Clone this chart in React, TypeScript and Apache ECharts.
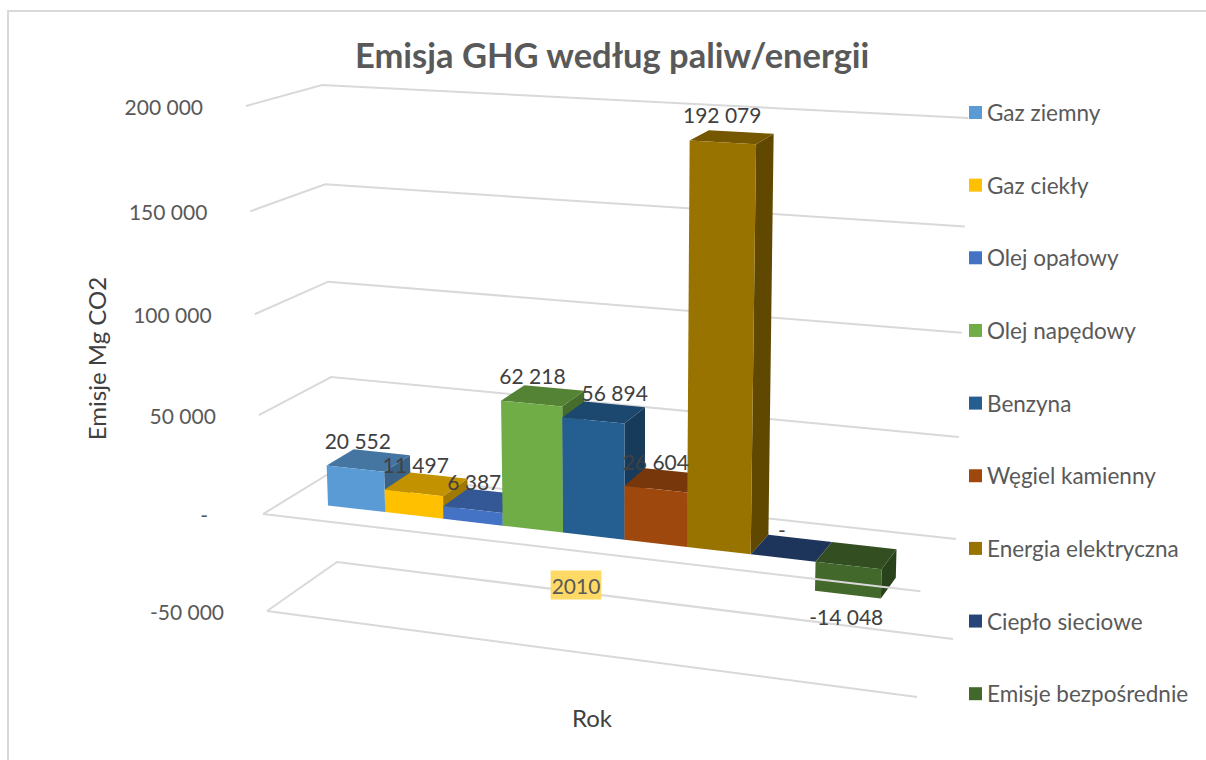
import React, { useEffect, useRef } from "react";
import * as echarts from "echarts";

const years = ["2010"];
const fuels = ["Gaz ziemny", "Gaz ciekły", "Olej opałowy", "Olej napędowy", "Benzyna", "Węgiel kamienny", "Energia elektryczna", "Ciepło sieciowe", "Emisje bezpośrednie"];
const emissions = [20552, 11497, 6387, 62218, 56894, 26604, 192079, 0, -14048];
const colors = ["#5B9BD5", "#FFC000", "#4472C4", "#70AD47", "#255E91", "#9E480E", "#997300", "#264478", "#43682B"];
const yTicks = [-50000, 0, 50000, 100000, 150000, 200000];
const yTickLabels = ["-50 000", "-", "50 000", "100 000", "150 000", "200 000"];

const FONT = "Lato, Carlito, sans-serif";
const GREY = "#595959";
const DARK = "#404040";
const LINE = "#D9D9D9";

// Projection of the 3D box: corners of the lowest and highest value planes.
// Order: front-left, back-left, back-right, front-right.
const LOW = [[267, 611], [337, 562], [953, 639], [917, 697]];
const HIGH = [[246, 106], [322, 85], [968, 118], [935, 146]];
const U_START = 0.0726, U_STEP = 0.0952, U_PERSP = 0.91, H_PERSP = 0.95;
const W_FRONT = 0.31, W_BACK = 0.7;

const mix = (a: number[], b: number[], t: number) => [a[0] + (b[0] - a[0]) * t, a[1] + (b[1] - a[1]) * t];
const planePoint = (c: number[][], u: number, w: number) => mix(mix(c[0], c[1], w), mix(c[3], c[2], w), u);
const project = (u: number, w: number, h: number) => {
  const f = (u * U_PERSP) / (1 + (U_PERSP - 1) * u);
  const s = (h * H_PERSP) / (1 + (H_PERSP - 1) * h);
  return mix(planePoint(LOW, f, w), planePoint(HIGH, f, w), s);
};
// Height (0..1) of a value.
const heightOf = (api: any, params: any, v: number) => {
  const g = params.coordSys;
  return (g.y + g.height - api.coord([0, v])[1]) / g.height;
};
const shade = (hex: string, k: number) => {
  const n = parseInt(hex.slice(1), 16);
  const c = [(n >> 16) & 255, (n >> 8) & 255, n & 255].map((x) => Math.round(x * k));
  return `rgb(${c[0]},${c[1]},${c[2]})`;
};
const formatValue = (v: number) => (v === 0 ? "-" : String(v).replace(/\B(?=(\d{3})+$)/, " "));

const barSeries = fuels.map((name, i) => ({
  type: "custom",
  name,
  z: 3 + i,
  itemStyle: { color: colors[i] },
  encode: { x: 0, y: 1 },
  data: [[0, emissions[i]]],
  renderItem: (params: any, api: any) => {
    const v = api.value(1);
    const zero = heightOf(api, params, 0);
    const end = heightOf(api, params, v);
    const top = Math.max(zero, end), bottom = Math.min(zero, end);
    const u0 = U_START + i * U_STEP, u1 = u0 + U_STEP;
    const poly = (pts: number[][], fill: string) => ({ type: "polygon", shape: { points: pts }, style: { fill } });
    return {
      type: "group",
      children: [
        poly([project(u1, W_FRONT, bottom), project(u1, W_BACK, bottom), project(u1, W_BACK, top), project(u1, W_FRONT, top)], shade(colors[i], 0.63)),
        poly([project(u0, W_FRONT, top), project(u0, W_BACK, top), project(u1, W_BACK, top), project(u1, W_FRONT, top)], shade(colors[i], 0.76)),
        poly([project(u0, W_FRONT, bottom), project(u0, W_FRONT, top), project(u1, W_FRONT, top), project(u1, W_FRONT, bottom)], colors[i]),
      ],
    };
  },
}));

const wallSeries = {
  type: "custom",
  name: "grid",
  z: 1,
  silent: true,
  encode: { x: 0, y: 1 },
  data: yTicks.map((t) => [0, t]),
  renderItem: (params: any, api: any) => {
    const h = heightOf(api, params, api.value(1));
    const idx = params.dataIndex;
    const pts = [project(0, 0, h), project(0, 1, h), project(1, 1, h)];
    const children: any[] = [
      { type: "polyline", shape: { points: pts }, style: { stroke: LINE, lineWidth: 2, fill: "none" } },
      {
        type: "text",
        style: {
          text: yTickLabels[idx],
          x: pts[0][0] - (yTicks[idx] === 0 ? 55 : 43),
          y: pts[0][1] + 0.5,
          align: "right",
          verticalAlign: "middle",
          fill: GREY,
          font: `21px ${FONT}`,
        },
      },
    ];
    if (yTicks[idx] === yTicks[0]) {
      children.push({ type: "polyline", shape: { points: [project(0, 0, h), project(1, 0, h)] }, style: { stroke: LINE, lineWidth: 2, fill: "none" } });
    }
    return { type: "group", children };
  },
};

const zeroLineSeries = {
  type: "custom",
  name: "zero",
  z: 15,
  silent: true,
  encode: { x: 0, y: 1 },
  data: [[0, 0]],
  renderItem: (params: any, api: any) => {
    const h = heightOf(api, params, api.value(1));
    return { type: "polyline", shape: { points: [project(0, 0, h), project(1, 0, h)] }, style: { stroke: LINE, lineWidth: 2, fill: "none" } };
  },
};

const labelSeries = {
  type: "custom",
  name: "labels",
  z: 20,
  silent: true,
  encode: { x: 0, y: 1 },
  data: emissions.map((v) => [0, v]),
  renderItem: (params: any, api: any) => {
    const i = params.dataIndex;
    const v = api.value(1);
    const p = project(U_START + (i + 0.5) * U_STEP, W_FRONT, heightOf(api, params, v));
    const nudge = fuels[i] === "Benzyna" ? 21 : 0;
    return {
      type: "text",
      style: {
        text: formatValue(v),
        x: p[0] + nudge + 2.5 - i * 0.5,
        y: p[1] + (v < 0 ? 22 : -28),
        align: "center",
        verticalAlign: "middle",
        fill: DARK,
        font: `21px ${FONT}`,
      },
    };
  },
};

const yearSeries = {
  type: "custom",
  name: "year",
  z: 2,
  silent: true,
  encode: { x: 0, y: 1 },
  data: [[0, yTicks[0]]],
  renderItem: () => ({
    type: "text",
    style: {
      text: years[0],
      x: 576,
      y: 585,
      align: "center",
      verticalAlign: "middle",
      fill: GREY,
      font: `21px ${FONT}`,
      backgroundColor: "#FFD966",
      padding: [4, 1, 4, 1],
    },
  }),
};

export default function App() {
  const ref = useRef<HTMLDivElement>(null);
  useEffect(() => {
    document.body.style.margin = "0";
    const chart = echarts.init(ref.current!, undefined, { renderer: "svg" });
    chart.setOption({
      animation: false,
      backgroundColor: "#FFFFFF",
      title: {
        text: "Emisja GHG według paliw/energii",
        left: 350,
        top: 32,
        textStyle: { fontFamily: FONT, fontSize: 34.5, fontWeight: "bold", color: GREY },
      },
      legend: {
        orient: "vertical",
        left: 969,
        top: 101,
        padding: 0,
        icon: "rect",
        itemWidth: 13,
        itemHeight: 13,
        itemGap: 49.65,
        data: fuels,
        selectedMode: false,
        textStyle: { fontFamily: FONT, fontSize: 22.5, color: GREY, lineHeight: 21 },
      },
      grid: { left: 267, right: 289, top: 106, bottom: 149 },
      xAxis: {
        type: "category",
        data: years,
        name: "Rok",
        nameLocation: "middle",
        nameGap: 94,
        nameTextStyle: { fontFamily: FONT, fontSize: 24, color: DARK },
        axisLine: { show: false },
        axisTick: { show: false },
        axisLabel: { show: false },
      },
      yAxis: {
        type: "value",
        min: -50000,
        max: 200000,
        interval: 50000,
        name: "Emisje Mg CO2",
        nameLocation: "middle",
        nameGap: 159,
        nameTextStyle: { fontFamily: FONT, fontSize: 24, color: DARK },
        axisLine: { show: false },
        axisTick: { show: false },
        axisLabel: { show: false },
        splitLine: { show: false },
      },
      graphic: [
        { type: "rect", z: -1, shape: { x: 8, y: 11, width: 1300, height: 900 }, style: { fill: "none", stroke: LINE, lineWidth: 2 } },
      ],
      series: [wallSeries, yearSeries, ...barSeries, zeroLineSeries, labelSeries],
    });
    return () => chart.dispose();
  }, []);
  return <div ref={ref} style={{ position: "fixed", left: 0, top: 0, width: 1206, height: 760, overflow: "hidden" }} />;
}
